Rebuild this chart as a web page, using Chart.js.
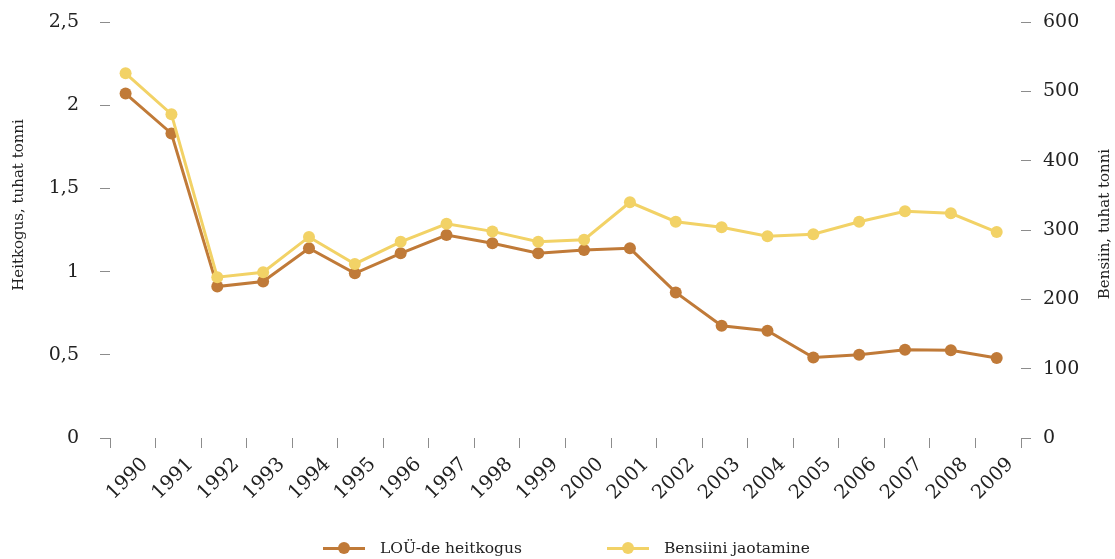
<!DOCTYPE html>
<html>
<head>
<meta charset="utf-8">
<script src="https://cdn.jsdelivr.net/npm/chart.js@4.4.1/dist/chart.umd.min.js"></script>
<style>
  body { margin: 0; background: #fff; }
  #wrap { position: relative; width: 1115px; height: 559px; }
  #chart { position: absolute; left: 0; top: 0; }
  #legend {
    position: absolute; left: 323px; top: 539px;
    display: flex; align-items: center;
    font-family: "DejaVu Serif", serif; font-size: 15.5px; color: #222;
  }
  .item { display: flex; align-items: center; margin-right: 85px; }
  .mark { position: relative; width: 42px; height: 3px; margin-right: 15px; }
  .mark span {
    position: absolute; left: 15px; top: -5px;
    width: 12px; height: 12px; border-radius: 50%;
  }
</style>
</head>
<body>
<div id="wrap">
  <canvas id="chart" width="1115" height="559"></canvas>
  <div id="legend"></div>
</div>
<script>
const years = ['1990', '1991', '1992', '1993', '1994', '1995', '1996', '1997', '1998', '1999',
  '2000', '2001', '2002', '2003', '2004', '2005', '2006', '2007', '2008', '2009'];

// LOÜ-de heitkogus, tuhat tonni (left axis)
const heitkogus = [2.07, 1.83, 0.91, 0.94, 1.14, 0.99, 1.11, 1.22, 1.17, 1.11,
  1.13, 1.14, 0.875, 0.675, 0.645, 0.484, 0.50, 0.53, 0.527, 0.481];

// Bensiini jaotamine, tuhat tonni (right axis)
const bensiin = [526, 467, 232, 239, 290, 251, 283, 309, 298, 283,
  286, 340, 312, 304, 291, 294, 312, 327, 324, 297];

const leftTicks = [0, 0.5, 1, 1.5, 2, 2.5];
const rightTicks = [0, 100, 200, 300, 400, 500, 600];

const BROWN = '#c07a38';
const YELLOW = '#f2d266';
const FONT = 'DejaVu Serif';

const xMin = 1989.66, xMax = 2009.53;

function pts(values) {
  return values.map((v, i) => ({ x: Number(years[i]), y: v }));
}

function buildLegend() {
  const items = [
    { text: 'LOÜ-de heitkogus', color: BROWN },
    { text: 'Bensiini jaotamine', color: YELLOW }
  ];
  const el = document.getElementById('legend');
  items.forEach(it => {
    const d = document.createElement('div');
    d.className = 'item';
    d.innerHTML = '<div class="mark" style="background:' + it.color + '"><span style="background:' +
      it.color + '"></span></div>' + it.text;
    el.appendChild(d);
  });
}

// rotated axis titles, both read bottom to top
const axisTitles = {
  id: 'axisTitles',
  afterDraw(chart) {
    const ctx = chart.ctx;
    const draw = (text, x, y) => {
      ctx.save();
      ctx.translate(x, y);
      ctx.rotate(-Math.PI / 2);
      ctx.font = '15px "' + FONT + '"';
      ctx.fillStyle = '#222';
      ctx.textAlign = 'center';
      ctx.textBaseline = 'middle';
      ctx.fillText(text, 0, 0);
      ctx.restore();
    };
    draw('Heitkogus, tuhat tonni', 19, 205);
    draw('Bensiin, tuhat tonni', 1105, 224);
  }
};

const gridStyle = { drawOnChartArea: false, tickLength: 10, color: '#8c8c8c', lineWidth: 1 };

// fixed plot box: left 110, right 1021, top 22, bottom 438
function fitY(width) {
  return scale => {
    scale.width = width;
    scale.paddingTop = 22;
    scale.paddingBottom = 0;
  };
}

new Chart(document.getElementById('chart'), {
  type: 'line',
  data: {
    datasets: [
      {
        label: 'LOÜ-de heitkogus',
        data: pts(heitkogus),
        yAxisID: 'y',
        borderColor: BROWN,
        backgroundColor: BROWN,
        borderWidth: 3,
        pointRadius: 6,
        pointBorderWidth: 0,
        order: 1
      },
      {
        label: 'Bensiini jaotamine',
        data: pts(bensiin),
        yAxisID: 'y1',
        borderColor: YELLOW,
        backgroundColor: YELLOW,
        borderWidth: 3,
        pointRadius: 6,
        pointBorderWidth: 0,
        order: 0
      }
    ]
  },
  options: {
    responsive: false,
    animation: false,
    layout: { padding: 0 },
    plugins: {
      legend: { display: false },
      tooltip: { enabled: false }
    },
    scales: {
      x: {
        type: 'linear',
        min: xMin,
        max: xMax,
        grid: gridStyle,
        border: { display: false },
        afterBuildTicks(scale) {
          const step = (xMax - xMin) / years.length;
          scale.ticks = [];
          for (let k = 0; k <= years.length; k++) scale.ticks.push({ value: xMin + k * step });
        },
        afterFit(scale) { scale.height = 559 - 438; },
        ticks: {
          autoSkip: false,
          maxRotation: 45,
          minRotation: 45,
          labelOffset: 35,
          padding: 5,
          color: '#222',
          font: { family: FONT, size: 19.5 },
          callback(value, index) { return years[index] || ''; }
        }
      },
      y: {
        position: 'left',
        min: 0,
        max: 2.5,
        grid: gridStyle,
        border: { display: false },
        afterBuildTicks(scale) { scale.ticks = leftTicks.map(v => ({ value: v })); },
        afterFit: fitY(110),
        ticks: {
          padding: 21,
          color: '#222',
          font: { family: FONT, size: 19 },
          callback: v => String(v).replace('.', ',')
        }
      },
      y1: {
        position: 'right',
        min: 0,
        max: 600,
        grid: gridStyle,
        border: { display: false },
        afterBuildTicks(scale) { scale.ticks = rightTicks.map(v => ({ value: v })); },
        afterFit: fitY(1115 - 1021),
        ticks: {
          padding: 12,
          color: '#222',
          font: { family: FONT, size: 19 }
        }
      }
    }
  },
  plugins: [axisTitles]
});

buildLegend();
</script>
</body>
</html>
